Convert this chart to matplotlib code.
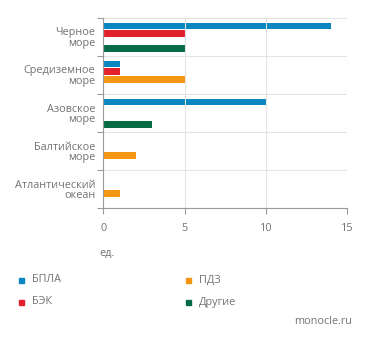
import matplotlib
matplotlib.use("Agg")
import matplotlib.pyplot as plt
import numpy as np
from matplotlib.patches import Rectangle

categories = ["Черное\nморе", "Средиземное\nморе", "Азовское\nморе", "Балтийское\nморе", "Атлантический\nокеан"]
series_names = ["БПЛА", "БЭК", "ПДЗ", "Другие"]
bpla = [14, 1, 10, 0, 0]
bek = [5, 1, 0, 0, 0]
pdz = [0, 5, 0, 2, 1]
other = [5, 0, 3, 0, 0]
xticks = [0, 5, 10, 15]
colors = ["#0a86c0", "#e3212d", "#f39614", "#046b46"]

plt.rcParams['font.family'] = ['Open Sans', 'DejaVu Sans']
txt = "#737373"
fs = 7.8

fig = plt.figure(figsize=(3.71, 3.43), dpi=100)
ax = fig.add_axes([103.5/371, 1-208/343, (347-103.5)/371, (208-18)/343])

series = [bpla, bek, pdz, other]
y = np.arange(len(categories))
bh = 0.18
for k, (vals, c) in enumerate(zip(series, colors)):
    ax.barh(y - 0.29 + 0.2*k, vals, height=bh, color=c, zorder=2)

ax.set_xlim(0, 15)
ax.set_ylim(len(categories)-0.5, -0.5)
ax.set_xticks(xticks)
ax.set_xticklabels([str(t) for t in xticks])
ax.set_yticks(y)
ax.set_yticklabels(categories, linespacing=0.9, ha='right')
ax.set_yticks(np.arange(len(categories)+1)-0.5, minor=True)

ax.tick_params(axis='y', which='major', length=0, pad=6, labelsize=fs, labelcolor=txt)
ax.tick_params(axis='y', which='minor', length=4, width=0.8, color='#9a9a9a')
ax.tick_params(axis='x', which='major', length=4, width=0.8, color='#9a9a9a', pad=7, labelsize=fs, labelcolor=txt)

ax.grid(axis='x', which='major', color='#e4e4e4', linewidth=0.8, zorder=3)
ax.grid(axis='y', which='minor', color='#e4e4e4', linewidth=0.8, zorder=1)
ax.set_axisbelow(False)
for s in ['top', 'right']:
    ax.spines[s].set_visible(False)
for s in ['left', 'bottom']:
    ax.spines[s].set_color('#9a9a9a')
    ax.spines[s].set_linewidth(0.8)
    ax.spines[s].set_zorder(4)

fig.text(99/371, 1-253/343, "ед.", fontsize=fs, color=txt, va='center', ha='left')

# legend
pos = [(21, 280), (21, 302), (188, 280), (188, 302)]
for (px, py), name, c in zip(pos, series_names, colors):
    fig.patches.append(Rectangle(((px-2.5)/371, 1-(py+2.5)/343), 5/371, 5/343,
                                 transform=fig.transFigure, color=c, figure=fig))
    fig.text((px+11)/371, 1-py/343, name, fontsize=fs, color=txt, va='center', ha='left')

fig.text(352/371, 1-321/343, "monocle.ru", fontsize=fs, color=txt, va='center', ha='right')

fig.savefig("out.png", dpi=100)
